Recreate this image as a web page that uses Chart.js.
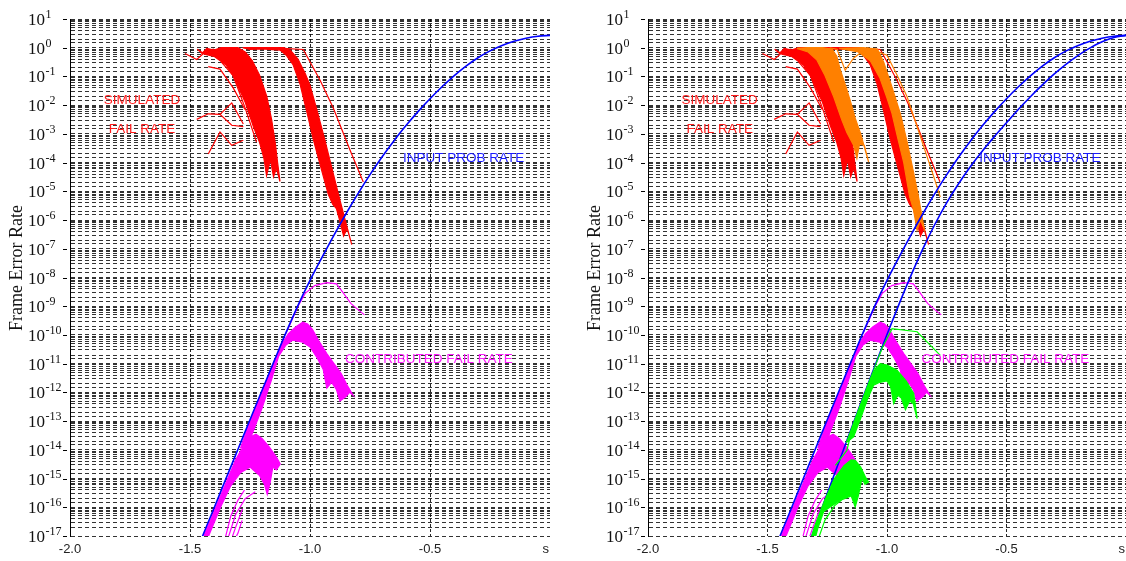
<!DOCTYPE html>
<html>
<head>
<meta charset="utf-8">
<title>Frame Error Rate vs s</title>
<script src="https://cdn.jsdelivr.net/npm/chart.js@4.4.0/dist/chart.umd.min.js"></script>
<style>
  html, body { margin: 0; padding: 0; background: #fff; overflow: hidden; }
  .wrap { position: relative; width: 1126px; height: 561px; }
  .wrap canvas { position: absolute; top: 0; }
  #left { left: 0; }
  #right { left: 578px; }
</style>
</head>
<body>
<div class="wrap">
  <canvas id="left" width="578" height="561"></canvas>
  <canvas id="right" width="548" height="561"></canvas>
</div>
<script>
// ---- axes ----
var X_TICKS = [-2, -1.5, -1, -0.5, 0];
var X_TICK_LABELS = ['-2.0', '-1.5', '-1.0', '-0.5', 's'];
var X_GRID = [-1.5, -1, -0.5];
var Y_EXP = [1, 0, -1, -2, -3, -4, -5, -6, -7, -8, -9, -10, -11, -12, -13, -14, -15, -16, -17];
var Y_TICKS = [1e1, 1e0, 1e-1, 1e-2, 1e-3, 1e-4, 1e-5, 1e-6, 1e-7, 1e-8, 1e-9, 1e-10, 1e-11, 1e-12, 1e-13, 1e-14, 1e-15, 1e-16, 1e-17];

// ---- INPUT PROB RATE (blue) ----
var BLUE_X = [-1.50, -1.45, -1.40, -1.35, -1.30, -1.25, -1.20, -1.15, -1.10, -1.05, -1.00, -0.95, -0.90, -0.85, -0.80, -0.75,
  -0.70, -0.65, -0.60, -0.55, -0.50, -0.45, -0.40, -0.35, -0.30, -0.25, -0.20, -0.15, -0.10, -0.05, 0];
var BLUE_OUTER = [8.5e-19, 8.9e-18, 9.3e-17, 1e-15, 1.05e-14, 1.12e-13, 1.17e-12, 1.2e-11, 1.2e-10, 1.07e-9, 7.9e-9, 5.0e-8, 3.0e-7, 1.66e-6, 8.3e-6, 3.8e-5,
  1.57e-4, 5.82e-4, 1.95e-3, 5.96e-3, 1.68e-2, 4.37e-2, 0.105, 0.229, 0.447, 0.776, 1.2, 1.68, 2.14, 2.51, 2.69];
var BLUE_IN_X = [-1.35, -1.30, -1.25, -1.20, -1.15, -1.10, -1.05, -1.00, -0.95, -0.90, -0.85, -0.80, -0.75, -0.70,
  -0.65, -0.60, -0.55, -0.50, -0.45, -0.40, -0.35, -0.30, -0.25, -0.20, -0.15, -0.10, -0.05, 0];
var BLUE_INNER = [1.53e-18, 2.16e-17, 2.99e-16, 4.03e-15, 5.31e-14, 6.84e-13, 8.6e-12, 1.03e-10, 1.16e-9, 1.16e-8, 9.9e-8, 7.0e-7, 4.03e-6, 1.88e-5,
  7.5e-5, 2.6e-4, 8.2e-4, 2.43e-3, 7.2e-3, 1.97e-2, 5.07e-2, 0.122, 0.269, 0.543, 0.99, 1.6, 2.26, 2.69];

// ---- SIMULATED FAIL RATE (red bundles, outlined) ----
var RED_A_X = [-1.47, -1.45, -1.43, -1.40, -1.37, -1.30, -1.27, -1.24, -1.21, -1.18, -1.16, -1.145, -1.135, -1.125,
  -1.14, -1.152, -1.165, -1.181, -1.192, -1.21, -1.236, -1.27, -1.30, -1.319, -1.35, -1.40, -1.44, -1.47];
var RED_A_Y = [0.89, 0.63, 0.95, 0.83, 1, 1, 0.71, 0.35, 0.11, 2e-2, 3.2e-3, 5e-4, 1e-4, 2.2e-5,
  6.3e-5, 3.2e-5, 1.26e-4, 3.5e-5, 1.4e-4, 5e-4, 1.8e-3, 1.26e-2, 4.5e-2, 0.1, 0.25, 0.5, 0.6, 0.89];
var RED_B_X = [-1.28, -1.11, -1.08, -1.05, -1.02, -1.0, -0.97, -0.94, -0.91, -0.88, -0.855, -0.826, -0.845, -0.86, -0.875,
  -0.89, -0.905, -0.924, -0.944, -0.965, -0.986, -1.01, -1.042, -1.07, -1.10, -1.125, -1.20, -1.25, -1.28];
var RED_B_Y = [1, 1, 0.79, 0.4, 0.126, 5e-2, 6.3e-3, 7.1e-4, 7.1e-5, 7.1e-6, 1.12e-6, 1.4e-7, 5e-7, 2.8e-7, 8.9e-7,
  2.5e-6, 3.5e-6, 7.9e-6, 3.2e-5, 1.4e-4, 6.3e-4, 4.5e-3, 5.6e-2, 0.25, 0.56, 0.83, 0.91, 0.87, 1];
var RED_LINES_X = [
  [-1.521, -1.472, -1.43, -1.40],
  [-1.424, -1.375, -1.32, -1.271],
  [-1.37, -1.321, -1.27, -1.223],
  [-1.472, -1.424, -1.375, -1.326, -1.278],
  [-1.375, -1.326, -1.278],
  [-1.424, -1.375, -1.326, -1.278],
  [-1.28, -1.11, -1.028, -0.958, -0.903, -0.833, -0.778]
];
var RED_LINES_Y = [
  [0.63, 0.39, 0.79, 0.89],
  [0.22, 0.18, 4e-2, 7.1e-3],
  [0.32, 0.11, 7.9e-3, 5.2e-4],
  [3.2e-3, 5e-3, 4.8e-3, 2e-3, 1.8e-3],
  [4.8e-3, 1.2e-2, 2.2e-3],
  [2e-4, 1.17e-3, 4e-4, 6e-4],
  [1, 0.95, 0.87, 7.4e-2, 7.9e-3, 2.7e-4, 2.1e-5]
];

// ---- second simulation (orange, right panel) ----
var ORA_A_X = [-1.377, -1.33, -1.27, -1.23, -1.21, -1.196, -1.17, -1.15, -1.133, -1.11, -1.09, -1.077,
  -1.095, -1.115, -1.126, -1.14, -1.168, -1.19, -1.223, -1.26, -1.293, -1.33, -1.377];
var ORA_A_Y = [0.95, 1, 1, 0.89, 0.5, 0.18, 4e-2, 1.12e-2, 3.5e-3, 1e-3, 2.5e-4, 1.05e-4,
  4e-4, 4.5e-4, 1.4e-4, 4e-4, 1.12e-3, 3.2e-3, 1.95e-2, 0.11, 0.37, 0.71, 0.95];
var ORA_B_X = [-1.20, -1.10, -1.04, -1.014, -0.98, -0.944, -0.915, -0.888, -0.87, -0.853, -0.845, -0.86,
  -0.874, -0.89, -0.905, -0.93, -0.955, -0.979, -1.0, -1.03, -1.07, -1.12, -1.20];
var ORA_B_Y = [0.95, 1, 0.89, 0.32, 4.5e-2, 5.1e-3, 5e-4, 4.2e-5, 7.9e-6, 1.26e-6, 5e-7, 1e-6,
  4.4e-7, 2.5e-6, 6.3e-6, 1e-4, 7.1e-4, 5.1e-3, 1.78e-2, 8.9e-2, 0.35, 0.71, 0.95];
var ORA_LINES_X = [
  [-1.24, -1.209, -1.175, -1.14, -1.10],
  [-1.084, -1.0, -0.958, -0.916, -0.874, -0.832, -0.80, -0.777]
];
var ORA_LINES_Y = [
  [1, 0.89, 0.166, 0.43, 0.79],
  [1, 0.55, 0.112, 1.95e-2, 1.78e-3, 1.58e-4, 2.5e-5, 6.3e-6]
];

// ---- CONTRIBUTED FAIL RATE (magenta) ----
var MAG_C_X = [-1.29, -1.25, -1.20, -1.15, -1.12, -1.09, -1.06, -1.03, -1.01, -0.99, -0.96, -0.93, -0.90, -0.87, -0.845, -0.82,
  -0.835, -0.85, -0.875, -0.89, -0.91, -0.93, -0.945, -0.97, -1.0, -1.03, -1.072, -1.10, -1.131, -1.16, -1.20, -1.25, -1.29];
var MAG_C_Y = [1.12e-14, 1e-13, 1.07e-12, 1.12e-11, 4.5e-11, 1.12e-10, 1.9e-10, 2.8e-10, 2.4e-10, 1.58e-10, 5.6e-11, 2.24e-11, 1e-11, 4.5e-12, 1.78e-12, 7.9e-13,
  1e-12, 7.1e-13, 5e-13, 1.26e-12, 2.24e-12, 1.41e-12, 6.3e-12, 1.58e-11, 3.8e-11, 5.6e-11, 6.6e-11, 4.5e-11, 1.78e-11, 2.8e-12, 2.8e-13, 2.24e-14, 1.12e-14];
var MAG_D_X = [-1.46, -1.40, -1.35, -1.31, -1.28, -1.25, -1.225, -1.20, -1.17, -1.14, -1.124,
  -1.14, -1.155, -1.165, -1.178, -1.19, -1.21, -1.25, -1.29, -1.33, -1.37, -1.41, -1.44, -1.46];
var MAG_D_Y = [4.5e-18, 7.1e-17, 7.1e-16, 4.5e-15, 1.26e-14, 2.8e-14, 3.5e-14, 2.5e-14, 1.26e-14, 5.6e-15, 3.2e-15,
  2e-15, 2.5e-15, 7.9e-16, 2.8e-16, 6.3e-16, 1.26e-15, 2.5e-15, 1.58e-15, 5.6e-16, 1.12e-16, 1.78e-17, 4.5e-18, 4.5e-18];
var MAG_LINES_X = [
  [-1.10, -1.05, -1.02, -0.98, -0.93, -0.89, -0.86, -0.83, -0.80, -0.773],
  [-1.36, -1.33, -1.30, -1.273],
  [-1.35, -1.31, -1.27, -1.228],
  [-1.335, -1.31, -1.281],
  [-1.325, -1.30, -1.283]
];
var MAG_LINES_Y = [
  [1.12e-10, 1e-9, 2.8e-9, 5.2e-9, 6.6e-9, 6e-9, 2.8e-9, 1.26e-9, 7.6e-10, 5e-10],
  [5e-18, 5e-17, 1.78e-16, 4e-16],
  [5e-18, 5.6e-17, 2e-16, 3.5e-16],
  [5e-18, 2e-17, 8.9e-17],
  [5e-18, 1.26e-17, 3.5e-17]
];

// ---- second contribution (green, right panel) ----
var GRN_C_X = [-1.17, -1.13, -1.10, -1.07, -1.045, -1.028, -1.0, -0.958, -0.92, -0.888, -0.874, -0.89, -0.905,
  -0.923, -0.94, -0.955, -0.972, -0.985, -1.0, -1.03, -1.056, -1.08, -1.11, -1.14, -1.17];
var GRN_C_Y = [1.78e-14, 1.41e-13, 6.3e-13, 2.8e-12, 7.1e-12, 1e-11, 8.9e-12, 5.9e-12, 2.5e-12, 9.1e-13, 1.23e-13, 4e-13, 5e-13,
  2.5e-13, 6.3e-13, 7.9e-13, 4.1e-13, 1.58e-12, 2.5e-12, 2.24e-12, 1.78e-12, 6.3e-13, 1.26e-13, 2.8e-14, 1.78e-14];
var GRN_D_X = [-1.33, -1.30, -1.26, -1.22, -1.18, -1.15, -1.133, -1.11, -1.09, -1.077, -1.092,
  -1.105, -1.12, -1.133, -1.15, -1.196, -1.23, -1.265, -1.29, -1.31, -1.33];
var GRN_D_Y = [4e-18, 2.5e-17, 1.78e-16, 1e-15, 2.8e-15, 4.5e-15, 4.3e-15, 2.5e-15, 1.12e-15, 7.6e-16, 6.3e-16,
  1e-15, 2.5e-16, 1.02e-16, 2.5e-16, 1.74e-16, 1.12e-16, 7.1e-17, 1.78e-17, 4e-18, 4e-18];
var GRN_LINES_X = [
  [-1.216, -1.168, -1.154, -1.12, -1.08, -1.05, -1.02, -0.979, -0.874, -0.777],
  [-1.30, -1.26, -1.22, -1.19]
];
var GRN_LINES_Y = [
  [2.9e-15, 9.5e-15, 2.8e-14, 2.24e-13, 1.78e-12, 7.9e-12, 3.5e-11, 1.66e-10, 1.29e-10, 1.95e-11],
  [4e-18, 3.5e-17, 1.12e-16, 1.78e-16]
];

// text labels placed in data coordinates
var NOTE_TEXT = ['SIMULATED', 'FAIL RATE', 'INPUT PROB RATE', 'CONTRIBUTED FAIL RATE'];
var NOTE_X = [-1.70, -1.70, -0.36, -0.505];
var NOTE_Y = [1.5e-2, 1.5e-3, 1.45e-4, 1.4e-11];
var NOTE_COLOR = ['#ff1a1a', '#ff1a1a', '#1a1aff', '#ff1aff'];

(function () {
  var RED = '#ff0000', ORANGE = '#ff8000', MAGENTA = '#ff00ff', GREEN = '#00ff00', BLUE = '#0000ff';

  function pts(xs, ys) {
    return xs.map(function (x, i) { return { x: x, y: ys[i] }; });
  }

  // closed outline of a bundle of curves, filled solid
  function band(xs, ys, color, order) {
    return { data: pts(xs, ys), borderColor: color, backgroundColor: color, borderWidth: 1.2,
      fill: 'shape', order: order };
  }

  function line(xs, ys, color, order, width, smooth) {
    return { data: pts(xs, ys), borderColor: color, borderWidth: width || 1.2, fill: false, order: order,
      cubicInterpolationMode: smooth ? 'monotone' : 'default' };
  }

  function lines(allX, allY, color, order) {
    return allX.map(function (xs, i) { return line(xs, allY[i], color, order); });
  }

  function commonSets() {
    return [].concat(
      [band(RED_A_X, RED_A_Y, RED, 7), band(RED_B_X, RED_B_Y, RED, 7)],
      lines(RED_LINES_X, RED_LINES_Y, RED, 7),
      [band(MAG_C_X, MAG_C_Y, MAGENTA, 5), band(MAG_D_X, MAG_D_Y, MAGENTA, 5)],
      lines(MAG_LINES_X, MAG_LINES_Y, MAGENTA, 5),
      [line(BLUE_X, BLUE_OUTER, BLUE, 4, 1.6, true)]
    );
  }

  function rightSets() {
    return commonSets().concat(
      [band(ORA_A_X, ORA_A_Y, ORANGE, 6), band(ORA_B_X, ORA_B_Y, ORANGE, 6)],
      lines(ORA_LINES_X, ORA_LINES_Y, ORANGE, 6),
      [line(BLUE_IN_X, BLUE_INNER, BLUE, 4, 1.6, true)],
      [band(GRN_C_X, GRN_C_Y, GREEN, 3), band(GRN_D_X, GRN_D_Y, GREEN, 3)],
      lines(GRN_LINES_X, GRN_LINES_Y, GREEN, 3)
    );
  }

  // y labels as 10 with a raised exponent, x labels, axis title, annotations
  var decor = {
    id: 'decor',
    afterDraw: function (chart) {
      var ctx = chart.ctx, xs = chart.scales.x, ys = chart.scales.y, area = chart.chartArea;
      ctx.save();
      ctx.textAlign = 'left';
      ctx.textBaseline = 'alphabetic';
      Y_TICKS.forEach(function (v, i) {
        var py = Math.round(ys.getPixelForValue(v));
        ctx.strokeStyle = '#000';
        ctx.lineWidth = 1;
        ctx.beginPath();
        ctx.moveTo(area.left - 7, py + 0.5);
        ctx.lineTo(area.left - 3, py + 0.5);
        ctx.stroke();
        ctx.fillStyle = '#111';
        ctx.font = '17px "Liberation Serif"';
        ctx.fillText('10', 28, py + 6);
        var w = ctx.measureText('10').width;
        ctx.font = '12px "Liberation Serif"';
        ctx.fillText(String(Y_EXP[i]), 28 + w + 0.5, py - 1);
      });

      ctx.font = '13px "Liberation Sans"';
      ctx.fillStyle = '#222';
      ctx.textBaseline = 'middle';
      X_TICKS.forEach(function (v, i) {
        var px = xs.getPixelForValue(v);
        var last = i === X_TICKS.length - 1;
        ctx.textAlign = last ? 'right' : 'center';
        ctx.fillText(X_TICK_LABELS[i], last ? px - 1 : px, 549);
      });

      ctx.save();
      ctx.translate(17, 268);
      ctx.rotate(-Math.PI / 2);
      ctx.textAlign = 'center';
      ctx.fillStyle = '#111';
      ctx.font = '18px "Liberation Serif"';
      ctx.fillText('Frame Error Rate', 0, 0);
      ctx.restore();

      ctx.font = '13.5px "Liberation Sans"';
      ctx.textAlign = 'center';
      ctx.textBaseline = 'middle';
      NOTE_TEXT.forEach(function (t, i) {
        ctx.fillStyle = NOTE_COLOR[i];
        ctx.fillText(t, xs.getPixelForValue(NOTE_X[i]), ys.getPixelForValue(NOTE_Y[i]));
      });
      ctx.restore();
    }
  };

  function makeChart(id, datasets, padRight) {
    return new Chart(document.getElementById(id), {
      type: 'line',
      data: { datasets: datasets },
      plugins: [decor],
      options: {
        responsive: false, animation: false, devicePixelRatio: 1, events: [],
        layout: { padding: { top: 19, right: padRight, bottom: 0, left: 0 } },
        elements: { point: { radius: 0 }, line: { tension: 0 } },
        plugins: { legend: { display: false }, tooltip: { enabled: false } },
        scales: {
          x: {
            type: 'linear', min: -2, max: 0,
            afterFit: function (s) { s.height = 25; },
            ticks: { display: false, stepSize: 0.5 },
            grid: {
              drawTicks: false, lineWidth: 1,
              color: function (c) {
                return (c.tick && X_GRID.indexOf(c.tick.value) >= 0) ? 'rgba(0,0,0,0.85)' : 'rgba(0,0,0,0)';
              }
            },
            border: { display: false, dash: [3, 2] }
          },
          y: {
            type: 'logarithmic', min: 1e-17, max: 10,
            afterFit: function (s) { s.width = 70; },
            ticks: { display: false },
            grid: { drawTicks: false, lineWidth: 1, color: 'rgba(0,0,0,0.8)' },
            border: { display: true, color: '#000', width: 1, dash: [4, 3] }
          }
        }
      }
    });
  }

  Chart.defaults.font.family = '"Liberation Sans", Arial, sans-serif';
  makeChart('left', commonSets(), 28);
  makeChart('right', rightSets(), 0);
})();
</script>
</body>
</html>
